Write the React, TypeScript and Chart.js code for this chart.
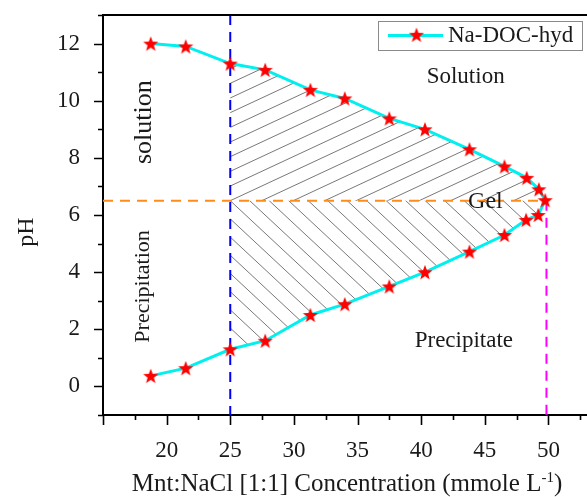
import React, { useEffect, useRef } from 'react';
import { Chart, registerables } from 'chart.js';

Chart.register(...registerables);

// ---- data ----
const seriesName = 'Na-DOC-hyd';
const concentration = [18.75, 21.5, 25.0, 27.75, 31.3, 34.0, 37.5, 40.3, 43.8, 46.55, 48.3, 49.25, 49.75, 49.2, 48.25, 46.55, 43.8, 40.3, 37.5, 34.0, 31.3, 27.75, 25.0, 21.5, 18.75];
const pHValues = [12.0, 11.9, 11.3, 11.08, 10.38, 10.08, 9.38, 9.0, 8.3, 7.7, 7.3, 6.9, 6.52, 6.0, 5.83, 5.3, 4.72, 4.0, 3.5, 2.88, 2.5, 1.6, 1.3, 0.64, 0.37];
const xTickLabels = [20, 25, 30, 35, 40, 45, 50];
const yTickLabels = [0, 2, 4, 6, 8, 10, 12];
const xRange = [15, 55];
const yRange = [-1, 13];
const boundaryConc = 25;
const gelPH = 6.5;
const gelLimitConc = 49.85;
const regionLabels = ['Solution', 'Gel', 'Precipitate', 'solution', 'Precipitation'];
const xTitle = 'Mnt:NaCl [1:1] Concentration (mmole L';
const yTitle = 'pH';

const SERIF = '"Liberation Serif", "Times New Roman", serif';

function makeStar(): HTMLCanvasElement {
  const c = document.createElement('canvas');
  c.width = 18; c.height = 18;
  const g = c.getContext('2d')!;
  const cx = 9, cy = 9.7, R = 8.0, r = 3.3;
  g.beginPath();
  for (let i = 0; i < 10; i++) {
    const a = -Math.PI / 2 + (i * Math.PI) / 5;
    const rad = i % 2 === 0 ? R : r;
    const px = cx + rad * Math.cos(a), py = cy + rad * Math.sin(a);
    if (i === 0) g.moveTo(px, py); else g.lineTo(px, py);
  }
  g.closePath();
  g.fillStyle = '#FF0000';
  g.fill();
  return c;
}

function drawHatch(ctx: CanvasRenderingContext2D, box: { l: number; t: number; r: number; b: number }, angleDeg: number, up: boolean, spacing: number, ox: number, oy: number) {
  const a = (angleDeg * Math.PI) / 180;
  const dx = Math.cos(a), dy = up ? -Math.sin(a) : Math.sin(a);
  const nx = -dy, ny = dx;
  const c0 = nx * ox + ny * oy;
  const corners = [[box.l, box.t], [box.r, box.t], [box.l, box.b], [box.r, box.b]];
  const cs = corners.map(([x, y]) => nx * x + ny * y);
  const cmin = Math.min(...cs), cmax = Math.max(...cs);
  const kmin = Math.floor((cmin - c0) / spacing), kmax = Math.ceil((cmax - c0) / spacing);
  const L = 2000;
  ctx.beginPath();
  for (let k = kmin; k <= kmax; k++) {
    const c = c0 + k * spacing;
    const px = nx * c, py = ny * c;
    ctx.moveTo(px - dx * L, py - dy * L);
    ctx.lineTo(px + dx * L, py + dy * L);
  }
  ctx.stroke();
}

export default function App() {
  const ref = useRef<HTMLCanvasElement | null>(null);

  useEffect(() => {
    if (!ref.current) return;
    const star = makeStar();

    const decor = {
      id: 'decor',
      beforeDatasetsDraw(chart: any) {
        const { ctx, chartArea: ca, scales } = chart;
        const xs = scales.x, ys = scales.y;
        const pts: [number, number][] = [];
        concentration.forEach((c, i) => {
          if (c >= boundaryConc) pts.push([xs.getPixelForValue(c), ys.getPixelForValue(pHValues[i])]);
        });
        const gx = xs.getPixelForValue(boundaryConc);
        const gy = ys.getPixelForValue(gelPH);
        const poly = () => {
          ctx.beginPath();
          pts.forEach(([x, y], i) => (i === 0 ? ctx.moveTo(x, y) : ctx.lineTo(x, y)));
          ctx.closePath();
        };
        ctx.save();
        ctx.strokeStyle = '#555';
        ctx.lineWidth = 0.8;
        // upper hatch
        ctx.save();
        poly(); ctx.clip();
        ctx.beginPath(); ctx.rect(ca.left, ca.top, ca.right - ca.left, gy - ca.top); ctx.clip();
        drawHatch(ctx, { l: ca.left, t: ca.top, r: ca.right, b: ca.bottom }, 25, true, 13.3, gx, gy);
        ctx.restore();
        // lower hatch
        ctx.save();
        poly(); ctx.clip();
        ctx.beginPath(); ctx.rect(ca.left, gy, ca.right - ca.left, ca.bottom - gy); ctx.clip();
        drawHatch(ctx, { l: ca.left, t: ca.top, r: ca.right, b: ca.bottom }, 43, false, 13.3, gx, gy);
        ctx.restore();

        // reference lines
        ctx.lineWidth = 2;
        ctx.setLineDash([10, 7]);
        ctx.strokeStyle = '#FF8C1A';
        ctx.beginPath();
        ctx.moveTo(ca.left, gy); ctx.lineTo(xs.getPixelForValue(gelLimitConc), gy); ctx.stroke();
        ctx.strokeStyle = '#FF00FF';
        ctx.beginPath();
        ctx.moveTo(xs.getPixelForValue(gelLimitConc), gy); ctx.lineTo(xs.getPixelForValue(gelLimitConc), ca.bottom); ctx.stroke();
        ctx.strokeStyle = '#0000FF';
        ctx.beginPath();
        ctx.moveTo(gx, ca.top); ctx.lineTo(gx, ca.bottom); ctx.stroke();
        ctx.restore();
      },
      afterDraw(chart: any) {
        const { ctx, chartArea: ca, scales } = chart;
        const xs = scales.x, ys = scales.y;
        ctx.save();
        // top frame
        ctx.strokeStyle = '#000';
        ctx.lineWidth = 2;
        ctx.beginPath(); ctx.moveTo(ca.left - 1, ca.top); ctx.lineTo(ca.right, ca.top); ctx.stroke();
        // tick marks
        ctx.lineWidth = 1.6;
        ctx.beginPath();
        for (let v = xRange[0]; v <= xRange[1] + 1e-6; v += 2.5) {
          const px = Math.round(xs.getPixelForValue(v)) + 0.5;
          const len = Math.abs(v % 5) < 1e-6 ? 10 : 5;
          ctx.moveTo(px, ca.bottom); ctx.lineTo(px, ca.bottom + len);
        }
        for (let v = yRange[0]; v <= yRange[1] + 1e-6; v += 1) {
          const py = Math.round(ys.getPixelForValue(v)) + 0.5;
          const len = Math.abs(v % 2) < 1e-6 ? 9 : 5;
          ctx.moveTo(ca.left, py); ctx.lineTo(ca.left - len, py);
        }
        ctx.stroke();

        // region labels
        ctx.fillStyle = '#1a1a1a';
        ctx.textAlign = 'center';
        ctx.textBaseline = 'middle';
        ctx.font = `23px ${SERIF}`;
        ctx.fillText(regionLabels[0], xs.getPixelForValue(43.5), ys.getPixelForValue(10.82));
        ctx.font = `24px ${SERIF}`;
        ctx.fillText(regionLabels[1], xs.getPixelForValue(45.05), ys.getPixelForValue(6.45));
        ctx.font = `23px ${SERIF}`;
        ctx.fillText(regionLabels[2], xs.getPixelForValue(43.36), ys.getPixelForValue(1.58));
        ctx.save();
        ctx.translate(xs.getPixelForValue(18.2), ys.getPixelForValue(9.25));
        ctx.rotate(-Math.PI / 2);
        ctx.font = `26px ${SERIF}`;
        ctx.fillText(regionLabels[3], 0, 0);
        ctx.restore();
        ctx.save();
        ctx.translate(xs.getPixelForValue(18.13), ys.getPixelForValue(3.5));
        ctx.rotate(-Math.PI / 2);
        ctx.font = `22px ${SERIF}`;
        ctx.fillText(regionLabels[4], 0, 0);
        ctx.restore();

        // y title
        ctx.save();
        ctx.translate(27, 232);
        ctx.rotate(-Math.PI / 2);
        ctx.font = `24px ${SERIF}`;
        ctx.fillText(yTitle, 0, 0);
        ctx.restore();

        // x title with superscript
        ctx.textAlign = 'left';
        ctx.textBaseline = 'alphabetic';
        ctx.font = `25px ${SERIF}`;
        const w1 = ctx.measureText(xTitle).width;
        const w3 = ctx.measureText(')').width;
        ctx.font = `15px ${SERIF}`;
        const w2 = ctx.measureText('-1').width;
        const total = w1 + w2 + w3;
        const x0 = 347 - total / 2;
        const base = 491;
        ctx.font = `25px ${SERIF}`;
        ctx.fillText(xTitle, x0, base);
        ctx.font = `15px ${SERIF}`;
        ctx.fillText('-1', x0 + w1, base - 9);
        ctx.font = `25px ${SERIF}`;
        ctx.fillText(')', x0 + w1 + w2, base);

        // legend
        ctx.fillStyle = '#fff';
        ctx.fillRect(378.5, 21.5, 204, 29);
        ctx.strokeStyle = '#8a8a8a';
        ctx.lineWidth = 1;
        ctx.strokeRect(378.5, 21.5, 204, 29);
        ctx.strokeStyle = '#00F0F0';
        ctx.lineWidth = 3;
        ctx.beginPath(); ctx.moveTo(388, 35.5); ctx.lineTo(443, 35.5); ctx.stroke();
        ctx.drawImage(star, 416.5 - 9, 35.5 - 9.7);
        ctx.fillStyle = '#1a1a1a';
        ctx.textBaseline = 'middle';
        ctx.font = `23px ${SERIF}`;
        ctx.fillText(seriesName, 448, 36);
        ctx.restore();
      },
    };

    const chart = new Chart(ref.current, {
      type: 'line',
      data: {
        datasets: [
          {
            label: seriesName,
            data: concentration.map((c, i) => ({ x: c, y: pHValues[i] })),
            borderColor: '#00F0F0',
            borderWidth: 3,
            pointStyle: star as any,
            pointRadius: 8,
            pointBackgroundColor: '#FF0000',
            pointBorderColor: '#FF0000',
            tension: 0,
            fill: false,
          },
        ],
      },
      options: {
        responsive: false,
        animation: false,
        layout: { padding: { top: 15, right: 0, left: 0, bottom: 0 } },
        plugins: { legend: { display: false }, tooltip: { enabled: false } },
        scales: {
          x: {
            type: 'linear',
            min: xRange[0],
            max: xRange[1],
            afterFit: (s: any) => { s.height = 82; s.paddingLeft = 0; s.paddingRight = 0; },
            afterBuildTicks: (s: any) => { s.ticks = xTickLabels.map((v) => ({ value: v })); },
            ticks: { font: { family: SERIF, size: 23 }, color: '#1a1a1a', padding: 14, maxRotation: 0, autoSkip: false },
            grid: { display: false },
            border: { display: true, color: '#000', width: 2 },
          },
          y: {
            type: 'linear',
            min: yRange[0],
            max: yRange[1],
            afterFit: (s: any) => { s.width = 103; s.paddingTop = 0; s.paddingBottom = 0; },
            afterBuildTicks: (s: any) => { s.ticks = yTickLabels.map((v) => ({ value: v })); },
            ticks: { font: { family: SERIF, size: 23 }, color: '#1a1a1a', padding: 15, autoSkip: false },
            grid: { display: false },
            border: { display: true, color: '#000', width: 2 },
          },
        },
      },
      plugins: [decor],
    });
    return () => chart.destroy();
  }, []);

  return (
    <div style={{ position: 'fixed', left: 0, top: 0, width: 587, height: 497, overflow: 'hidden', background: '#fff' }}>
      <canvas ref={ref} width={623} height={497} style={{ display: 'block' }} />
    </div>
  );
}
